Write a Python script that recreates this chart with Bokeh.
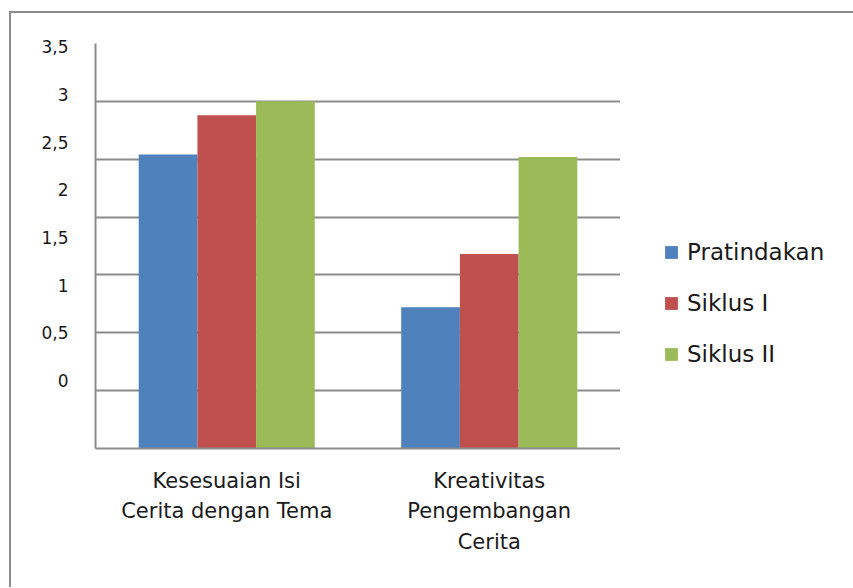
from bokeh.plotting import figure
from bokeh.layouts import row
from bokeh.models import (FactorRange, Range1d, FixedTicker, Legend, LegendItem,
                          ColumnDataSource)
from bokeh.transform import dodge
from bokeh.embed import file_html
from bokeh.resources import INLINE

# ---- data ----
categories = ["Kesesuaian Isi\nCerita dengan Tema", "Kreativitas\nPengembangan\nCerita"]
series_names = ["Pratindakan", "Siklus I", "Siklus II"]
pratindakan = [2.54, 1.22]
siklus_1 = [2.88, 1.68]
siklus_2 = [3.0, 2.52]
tick_values = [0, 0.5, 1, 1.5, 2, 2.5, 3, 3.5]
tick_labels = ["0", "0,5", "1", "1,5", "2", "2,5", "3", "3,5"]
colors = ["#4F81BD", "#C0504D", "#9BBB59"]

FONT = "DejaVu Sans"
GRID = "#8c8c8c"
TXT = "#1a1a1a"
H = 574

src = ColumnDataSource(dict(cat=categories, s0=pratindakan, s1=siklus_1, s2=siklus_2))

p = figure(x_range=FactorRange(*categories, range_padding=0),
           y_range=Range1d(0, 3.5),
           width=609, height=H,
           min_border_left=84, min_border_right=0,
           min_border_top=30, min_border_bottom=139,
           output_backend="svg", toolbar_location=None)

w = 0.2236
for i, (col, off) in enumerate(zip(["s0", "s1", "s2"], [-w, 0, w])):
    p.vbar(x=dodge("cat", off, range=p.x_range), top=col, width=w, source=src,
           fill_color=colors[i], line_color=None)

# grid at the real values
p.ygrid.ticker = FixedTicker(ticks=tick_values)
p.ygrid.grid_line_color = GRID
p.ygrid.grid_line_width = 2
p.xgrid.grid_line_color = None
p.outline_line_color = None

# y labels: drawn as in the original (evenly spaced, not aligned to grid)
label_pos = [round(0.588 + 0.8234 * v, 4) for v in tick_values]
p.yaxis.ticker = FixedTicker(ticks=label_pos)
p.yaxis.major_label_overrides = {pos: lab for pos, lab in zip(label_pos, tick_labels)}
p.yaxis.axis_line_color = GRID
p.yaxis.axis_line_width = 2
p.yaxis.major_tick_line_color = None
p.yaxis.minor_tick_line_color = None
p.yaxis.major_tick_out = 0
p.yaxis.major_tick_in = 0
p.yaxis.major_label_standoff = 27
p.yaxis.major_label_text_font = FONT
p.yaxis.major_label_text_font_size = "17px"
p.yaxis.major_label_text_color = TXT

p.xaxis.axis_line_color = GRID
p.xaxis.axis_line_width = 2
p.xaxis.major_tick_line_color = None
p.xaxis.minor_tick_line_color = None
p.xaxis.major_tick_out = 0
p.xaxis.major_tick_in = 0
p.xaxis.major_label_standoff = 20
p.xaxis.major_label_text_font = FONT
p.xaxis.major_label_text_font_size = "21px"
p.xaxis.major_label_text_line_height = 1.29
p.xaxis.major_label_text_color = TXT

# legend panel (separate figure so the legend is not clipped by the bar frame);
# its swatch renderers hold no visible data (NaN), only their colours
pl = figure(width=233, height=H, x_range=Range1d(0, 1), y_range=Range1d(0, 1),
            min_border=0, output_backend="svg", toolbar_location=None)
pl.axis.visible = False
pl.grid.visible = False
pl.outline_line_color = None
items = []
for name, c in zip(series_names, colors):
    r = pl.vbar(x=[float("nan")], top=[float("nan")], width=0.1, fill_color=c, line_color=None)
    items.append(LegendItem(label=name, renderers=[r], index=0))
legend = Legend(items=items, location=(43, 81), orientation="vertical",
                glyph_width=16, glyph_height=16, label_height=16, spacing=25,
                label_standoff=8, label_text_font=FONT, label_text_font_size="23px",
                label_text_color=TXT,
                border_line_color=None, background_fill_alpha=0, padding=0, margin=0)
pl.add_layout(legend, "center")

layout = row(p, pl, spacing=0,
             styles={"border-left": "2px solid #8c8c8c", "border-top": "2px solid #8c8c8c",
                     "margin-left": "9px", "margin-top": "11px"})

open("out.html", "w").write(file_html(layout, INLINE))
